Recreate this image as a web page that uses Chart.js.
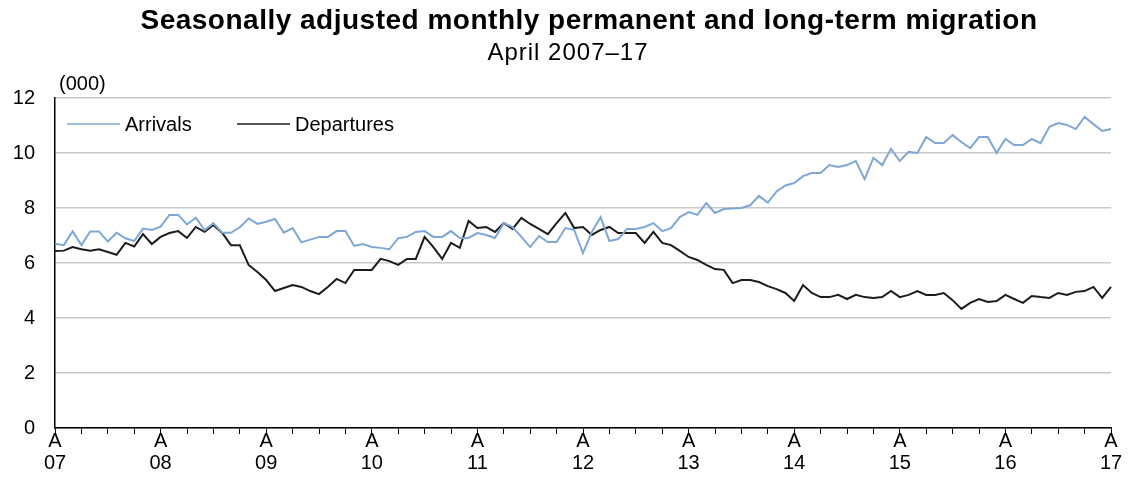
<!DOCTYPE html>
<html>
<head>
<meta charset="utf-8">
<script src="https://cdn.jsdelivr.net/npm/chart.js@4/dist/chart.umd.min.js"></script>
<style>
  html, body { margin: 0; padding: 0; background: #fff; }
  #wrap { width: 1129px; height: 488px; position: relative; }
</style>
</head>
<body>
<div id="wrap"><canvas id="chart" width="1129" height="488"></canvas></div>
<script>
// monthly series, April 2007 to April 2017 (thousands)
const yearLabels = ['07', '08', '09', '10', '11', '12', '13', '14', '15', '16', '17'];
const monthNames = ['Apr', 'May', 'Jun', 'Jul', 'Aug', 'Sep', 'Oct', 'Nov', 'Dec', 'Jan', 'Feb', 'Mar'];

const arrivals = [
    6.70, 6.65, 7.15, 6.65, 7.15, 7.15, 6.78, 7.10, 6.90, 6.80, 7.25, 7.20,
    7.32, 7.75, 7.75, 7.40, 7.65, 7.20, 7.45, 7.10, 7.10, 7.30, 7.62, 7.42,
    7.50, 7.60, 7.10, 7.27, 6.75, 6.85, 6.95, 6.95, 7.16, 7.16, 6.62, 6.69,
    6.58, 6.55, 6.50, 6.90, 6.95, 7.13, 7.16, 6.95, 6.95, 7.16, 6.91, 6.91,
    7.09, 7.02, 6.91, 7.45, 7.31, 6.95, 6.58, 6.98, 6.76, 6.76, 7.27, 7.20,
    6.36, 7.13, 7.67, 6.80, 6.87, 7.24, 7.24, 7.31, 7.45, 7.16, 7.27, 7.67,
    7.85, 7.75, 8.18, 7.82, 7.96, 7.98, 8.00, 8.10, 8.44, 8.20, 8.60, 8.82,
    8.91, 9.16, 9.27, 9.27, 9.56, 9.49, 9.56, 9.71, 9.05, 9.82, 9.56, 10.15,
    9.71, 10.04, 10.00, 10.58, 10.36, 10.36, 10.65, 10.40, 10.18, 10.58, 10.58, 10.00,
    10.51, 10.29, 10.29, 10.51, 10.36, 10.95, 11.09, 11.02, 10.87, 11.31, 11.05, 10.80,
    10.87
];

const departures = [
    6.44, 6.45, 6.58, 6.50, 6.45, 6.50, 6.40, 6.30, 6.73, 6.60, 7.05, 6.69,
    6.95, 7.09, 7.16, 6.91, 7.31, 7.13, 7.38, 7.09, 6.65, 6.65, 5.93, 5.67,
    5.38, 4.98, 5.09, 5.20, 5.13, 4.98, 4.87, 5.13, 5.42, 5.27, 5.75, 5.75,
    5.75, 6.15, 6.07, 5.93, 6.15, 6.15, 6.95, 6.58, 6.15, 6.73, 6.55, 7.53,
    7.27, 7.31, 7.13, 7.45, 7.24, 7.64, 7.42, 7.24, 7.05, 7.45, 7.82, 7.27,
    7.31, 7.02, 7.20, 7.31, 7.09, 7.09, 7.09, 6.73, 7.13, 6.73, 6.65, 6.44,
    6.22, 6.11, 5.93, 5.78, 5.75, 5.27, 5.38, 5.38, 5.31, 5.16, 5.05, 4.91,
    4.62, 5.20, 4.91, 4.76, 4.76, 4.84, 4.69, 4.84, 4.76, 4.73, 4.76, 4.98,
    4.76, 4.84, 4.98, 4.84, 4.84, 4.91, 4.65, 4.33, 4.55, 4.69, 4.58, 4.62,
    4.84, 4.69, 4.55, 4.80, 4.76, 4.73, 4.91, 4.84, 4.95, 4.98, 5.13, 4.73,
    5.13
];

// month labels built from the year list (Apr 07 ... Apr 17)
const labels = [];
yearLabels.forEach((yr, y) => {
    monthNames.forEach((m, k) => {
        if (y === yearLabels.length - 1 && k > 0) return;
        const yy = k < 9 ? yr : yearLabels[y + 1];
        labels.push(m + ' ' + yy);
    });
});

const FONT = "'Liberation Sans', Arial, sans-serif";

// titles, unit note and the in-plot legend
const decor = {
    id: 'decor',
    afterDraw(c) {
        const ctx = c.ctx;
        const a = c.chartArea;
        ctx.save();
        ctx.fillStyle = '#000';
        ctx.textAlign = 'center';
        ctx.textBaseline = 'middle';
        ctx.letterSpacing = '0.5px';
        ctx.font = 'bold 28px ' + FONT;
        ctx.fillText('Seasonally adjusted monthly permanent and long-term migration', 589, 21);
        ctx.letterSpacing = '1px';
        ctx.font = '24px ' + FONT;
        ctx.fillText('April 2007\u201317', 568, 53);
        ctx.letterSpacing = '0px';
        ctx.textAlign = 'left';
        ctx.font = '20px ' + FONT;
        ctx.fillText('(000)', a.left + 4, 84);

        const ly = a.top + 26;
        let x = a.left + 12;
        c.data.datasets.forEach(ds => {
            ctx.strokeStyle = ds.borderColor;
            ctx.lineWidth = 1.5;
            ctx.beginPath();
            ctx.moveTo(x, ly);
            ctx.lineTo(x + 53, ly);
            ctx.stroke();
            ctx.fillStyle = '#000';
            ctx.fillText(ds.label, x + 58, ly + 1);
            x += 170;
        });
        ctx.restore();
    }
};

new Chart(document.getElementById('chart'), {
    type: 'line',
    data: {
        labels: labels,
        datasets: [
            { label: 'Arrivals', data: arrivals, borderColor: '#7fa7d6', borderWidth: 2, pointRadius: 0, tension: 0 },
            { label: 'Departures', data: departures, borderColor: '#1c1c1c', borderWidth: 2, pointRadius: 0, tension: 0 }
        ]
    },
    options: {
        responsive: false,
        animation: false,
        events: [],
        layout: { padding: { top: 98, left: 0, right: 18, bottom: 0 } },
        plugins: { legend: { display: false }, tooltip: { enabled: false } },
        scales: {
            x: {
                offset: false,
                border: { display: true, color: '#000', width: 1.5 },
                grid: {
                    display: true,
                    drawOnChartArea: false,
                    drawTicks: true,
                    tickLength: 6,
                    lineWidth: 1,
                    color: ctx => (ctx.index % 3 === 0 ? '#000' : 'rgba(0,0,0,0)')
                },
                ticks: {
                    autoSkip: false,
                    maxRotation: 0,
                    padding: -4,
                    color: '#000',
                    font: { family: FONT, size: 20, lineHeight: 1.1 },
                    callback: (v, i) => (i % 12 === 0 ? ['A', yearLabels[i / 12]] : '')
                },
                afterFit: s => { s.height = 60; }
            },
            y: {
                min: 0,
                max: 12,
                border: { display: true, color: '#000', width: 1.5 },
                grid: { color: '#c9c9c9', lineWidth: 1.5, drawTicks: false },
                ticks: {
                    stepSize: 2,
                    padding: 20,
                    color: '#000',
                    font: { family: FONT, size: 20 }
                },
                afterFit: s => { s.width = 55; }
            }
        }
    },
    plugins: [decor]
});
</script>
</body>
</html>
